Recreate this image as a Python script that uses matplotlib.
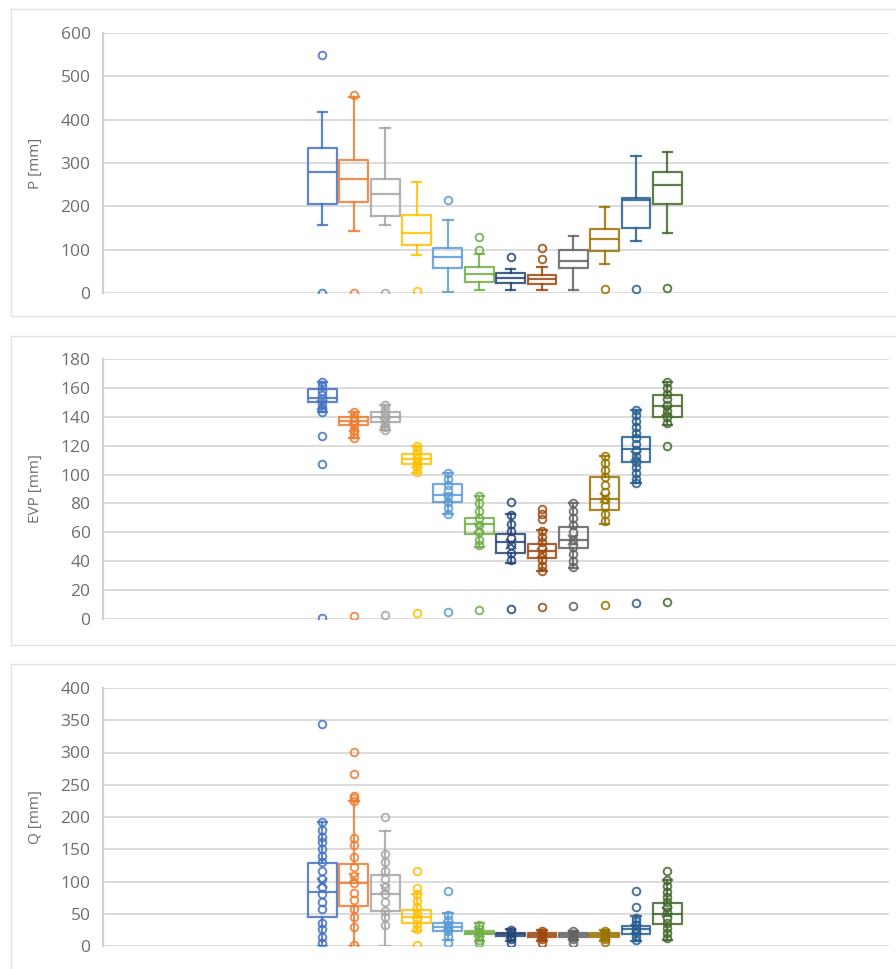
import matplotlib
matplotlib.use("Agg")
import matplotlib.pyplot as plt
from matplotlib.patches import Rectangle

plt.rcParams['font.family'] = ['Open Sans', 'DejaVu Sans']

months = ["Jan", "Feb", "Mar", "Apr", "May", "Jun", "Jul", "Aug", "Sep", "Oct", "Nov", "Dec"]
colors = ["#4472C4", "#ED7D31", "#A5A5A5", "#FFC000", "#5B9BD5", "#70AD47",
          "#264478", "#9E480E", "#636363", "#997300", "#255E91", "#43682B"]

# ---------------- P [mm] ----------------
P_whislo = [156, 144, 156, 87, 2, 6, 8, 8, 8, 68, 119, 138]
P_q1     = [206, 210, 177, 110, 58, 25, 22, 20, 58, 98, 151, 206]
P_med    = [280, 262, 229, 139, 83, 45, 35, 32, 75, 125, 214, 250]
P_q3     = [334, 307, 263, 180, 104, 60, 46, 42, 100, 148, 220, 279]
P_whishi = [417, 452, 380, 257, 169, 90, 56, 60, 131, 198, 316, 325]
P_out = [[550, 0], [458, 0], [0], [4], [214], [129, 100], [83], [104, 79], [], [10], [10], [12]]

# ---------------- EVP [mm] ----------------
E_whislo = [143.6, 125, 131, 101, 73, 50, 39, 33, 35, 66, 94, 134]
E_q1     = [150, 134, 136.6, 107, 81, 59, 46, 42, 49, 75.5, 109, 140]
E_med    = [153, 137, 140, 111, 86, 66, 53, 47, 55, 83, 117.5, 147.5]
E_q3     = [159, 140, 143.5, 114, 93.5, 70, 59, 52, 64, 98, 126, 155]
E_whishi = [164, 143, 148, 120, 101, 85, 72.5, 61.6, 80, 113, 145, 164]
E_mean   = [148, 133, 136, 108, 84, 63, 52, 46, 55, 84, 113, 144]
E_out = [[127, 107, 1], [2.3], [3], [4], [5], [6], [81, 7], [76, 73, 69, 8], [9], [10], [11], [120, 12]]
E_pts = [
    [164, 161, 158, 155, 152, 149, 146, 143.6],
    [143, 140, 137, 134, 131, 128, 125],
    [148, 145, 142, 139, 136, 133, 131],
    [120, 117, 114, 111, 108, 105, 102],
    [101, 97, 93, 89, 85, 81, 77, 73],
    [85, 80, 75, 70, 65, 60, 55, 51],
    [72, 66, 61, 56, 51, 46, 41],
    [61, 57, 53, 49, 45, 41, 37, 33],
    [80, 75, 70, 65, 60, 55, 50, 45, 40, 36],
    [113, 108, 103, 98, 93, 88, 83, 78, 73, 68],
    [145, 141, 137, 133, 129, 125, 121, 117, 113, 109, 105, 101, 97, 94],
    [164, 160, 156, 152, 148, 144, 140, 136],
]

# ---------------- Q [mm] ----------------
Q_whislo = [0, 0, 0, 24, 9, 7, 8, 8, 9, 8, 8, 9]
Q_q1     = [45, 62, 54.5, 35, 24, 18, 15.4, 14.4, 13.4, 14.4, 18, 34]
Q_med    = [84, 97, 80, 45, 30, 20.5, 18, 17, 16.5, 17, 26, 50]
Q_q3     = [128.5, 127.5, 109.5, 55.5, 36, 23, 20.5, 19.5, 19.5, 19.5, 31, 67]
Q_whishi = [193, 225, 179, 81, 51, 35, 26, 24.7, 23.6, 25, 46, 102]
Q_mean   = [97, 105, 88, 50, 31, 21, 18, 17, 17, 17, 27, 53]
Q_out = [[344], [301, 266, 233, 229], [200], [117, 90, 1.5], [85, 4], [4], [5], [5], [5], [6], [86, 60], [117]]
Q_pts = [
    [193, 180, 169, 161, 150, 140, 130, 117, 104, 91, 81, 68, 58, 35, 27, 14, 5],
    [225, 167, 156, 138, 122, 109, 97, 82, 71, 58, 45, 30, 1],
    [143, 130, 117, 104, 91, 80, 68, 55, 45, 32],
    [81, 70, 61, 50, 42, 34, 27],
    [48, 40, 33, 28, 23, 15],
    [33, 26, 21, 16, 10],
    [25, 20, 16, 11],
    [24, 19, 15, 11],
    [23, 18, 14, 11],
    [24, 19, 15, 11],
    [44, 38, 32, 27, 22, 16, 10],
    [102, 93, 84, 76, 68, 60, 52, 44, 36, 28, 20, 12],
]

W, H = 896, 969
fig = plt.figure(figsize=(W / 100, H / 100), dpi=100)

TEXT = "#6E6E6E"
GRID = "#D9D9D9"
ALPHA = 0.85

# chart-area borders (pixel coords -> figure coords)
for (y0, y1) in [(9, 316), (336, 645), (664, 975)]:
    fig.patches.append(Rectangle((11 / W, 1 - y1 / H), 1.0, (y1 - y0) / H,
                                 transform=fig.transFigure, fill=False,
                                 edgecolor="#E3E3E3", linewidth=1.0))

ax_left, ax_right = 103, 889
panels = [
    dict(top=33, bot=293, ymax=600, step=100, label="P [mm]",
         lo=P_whislo, q1=P_q1, med=P_med, q3=P_q3, hi=P_whishi, mean=None, out=P_out, pts=None),
    dict(top=359, bot=619, ymax=180, step=20, label="EVP [mm]",
         lo=E_whislo, q1=E_q1, med=E_med, q3=E_q3, hi=E_whishi, mean=E_mean, out=E_out, pts=E_pts),
    dict(top=688, bot=946, ymax=400, step=50, label="Q [mm]",
         lo=Q_whislo, q1=Q_q1, med=Q_med, q3=Q_q3, hi=Q_whishi, mean=Q_mean, out=Q_out, pts=Q_pts),
]

positions = list(range(1, 13))
for p in panels:
    ax = fig.add_axes([ax_left / W, 1 - p["bot"] / H, (ax_right - ax_left) / W, (p["bot"] - p["top"]) / H])
    ax.set_facecolor("none")
    for i in range(12):
        fl = list(p["out"][i]) + (list(p["pts"][i]) if p["pts"] is not None else [])
        st = dict(whislo=p["lo"][i], q1=p["q1"][i], med=p["med"][i], q3=p["q3"][i],
                  whishi=p["hi"][i], fliers=fl,
                  mean=(p["mean"][i] if p["mean"] is not None else p["med"][i]))
        c = colors[i]
        ax.bxp([st], positions=[positions[i]], widths=0.92, capwidths=0.3,
               showmeans=p["mean"] is not None, manage_ticks=False,
               boxprops=dict(color=c, linewidth=1.6, alpha=ALPHA),
               whiskerprops=dict(color=c, linewidth=1.6, alpha=ALPHA),
               capprops=dict(color=c, linewidth=1.6, alpha=ALPHA),
               medianprops=dict(color=c, linewidth=1.6, alpha=ALPHA),
               meanprops=dict(marker="x", markeredgecolor=c, markersize=7, markeredgewidth=1.5, alpha=ALPHA),
               flierprops=dict(marker="o", markerfacecolor="none", markeredgecolor=c,
                               markersize=5.5, markeredgewidth=1.4, alpha=ALPHA))
    ax.set_xlim(-6.0, 19.07)
    ax.set_ylim(0, p["ymax"])
    ax.set_yticks(range(0, p["ymax"] + 1, p["step"]))
    ax.set_xticks([])
    ax.grid(axis="y", color=GRID, linewidth=1.3, zorder=0)
    ax.set_axisbelow(True)
    for s in ["top", "right", "bottom"]:
        ax.spines[s].set_visible(False)
    ax.spines["left"].set_color("#D0D0D0")
    ax.spines["left"].set_linewidth(1.6)
    ax.tick_params(axis="y", length=0, pad=9, labelsize=12.5, labelcolor=TEXT)
    fig.text(35 / W, 1 - ((p["top"] + p["bot"]) / 2) / H, p["label"], rotation=90,
             ha="center", va="center", fontsize=11, color=TEXT)

fig.savefig("out.png", dpi=100)
